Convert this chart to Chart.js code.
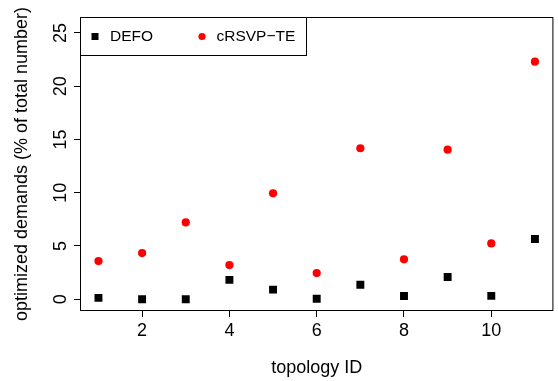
<!DOCTYPE html>
<html>
<head>
<meta charset="utf-8">
<script src="https://cdn.jsdelivr.net/npm/chart.js@4/dist/chart.umd.min.js"></script>
<style>
  html, body { margin: 0; padding: 0; background: #fff; }
  #wrap { width: 558px; height: 381px; }
</style>
</head>
<body>
<div id="wrap"><canvas id="chart" width="558" height="381"></canvas></div>
<script>
const topologyIds = [1, 2, 3, 4, 5, 6, 7, 8, 9, 10, 11];
const defoValues = [0.12, 0.0, 0.0, 1.81, 0.9, 0.04, 1.35, 0.3, 2.08, 0.31, 5.65];
const crsvpValues = [3.58, 4.33, 7.21, 3.2, 9.94, 2.45, 14.17, 3.74, 14.04, 5.24, 22.3];
const xTickValues = [2, 4, 6, 8, 10];
const yTickValues = [0, 5, 10, 15, 20, 25];
const seriesNames = ['DEFO', 'cRSVP\u2212TE'];

const FONT = 'Liberation Sans, Arial, Helvetica, sans-serif';

const toPoints = (xs, ys) => xs.map((x, i) => ({ x: x, y: ys[i] }));

// R-style box around the plot region plus the boxed legend top-left
const boxAndLegend = {
    id: 'boxAndLegend',
    afterDraw(chart) {
        const { ctx, chartArea } = chart;
        ctx.save();
        ctx.strokeStyle = '#000';
        ctx.lineWidth = 1;
        ctx.strokeRect(chartArea.left - 0.5, chartArea.top - 0.5,
            chartArea.right - chartArea.left + 1, chartArea.bottom - chartArea.top + 1);

        // legend
        const lx = chartArea.left - 0.5, ly = chartArea.top - 0.5;
        ctx.strokeRect(lx, ly, 226, 38);
        const cy = ly + 19;
        ctx.font = '15.5px ' + FONT;
        ctx.textBaseline = 'middle';
        ctx.textAlign = 'left';

        ctx.fillStyle = chart.data.datasets[0].backgroundColor;
        ctx.fillRect(lx + 11, cy - 3.5, 7, 7);
        ctx.fillStyle = '#000';
        ctx.fillText(chart.data.datasets[0].label, lx + 29.5, cy);

        ctx.fillStyle = chart.data.datasets[1].backgroundColor;
        ctx.beginPath();
        ctx.arc(lx + 121.5, cy, 3.6, 0, Math.PI * 2);
        ctx.fill();
        ctx.fillStyle = '#000';
        ctx.fillText(chart.data.datasets[1].label, lx + 136, cy);
        ctx.restore();
    }
};

new Chart(document.getElementById('chart'), {
    type: 'scatter',
    data: {
        datasets: [{
            label: seriesNames[0],
            data: toPoints(topologyIds, defoValues),
            pointStyle: 'rect',
            pointRadius: 5.6,
            backgroundColor: '#000000',
            borderWidth: 0
        }, {
            label: seriesNames[1],
            data: toPoints(topologyIds, crsvpValues),
            pointStyle: 'circle',
            pointRadius: 4.1,
            backgroundColor: '#ff0000',
            borderWidth: 0
        }]
    },
    options: {
        responsive: false,
        animation: false,
        layout: { padding: { top: 18, right: 4, left: 0, bottom: 0 } },
        plugins: {
            legend: { display: false },
            tooltip: { enabled: false }
        },
        scales: {
            x: {
                type: 'linear',
                min: 0.6,
                max: 11.4,
                afterBuildTicks: axis => { axis.ticks = xTickValues.map(v => ({ value: v })); },
                afterFit: axis => { axis.height = 71; },
                grid: { display: true, drawOnChartArea: false, drawTicks: true, tickLength: 7, color: '#000' },
                border: { display: false },
                ticks: { color: '#000', font: { family: FONT, size: 18 }, padding: 3, maxRotation: 0, autoSkip: false },
                title: {
                    display: true,
                    text: 'topology ID',
                    color: '#000',
                    font: { family: FONT, size: 18 },
                    padding: { top: 0, bottom: 2 }
                }
            },
            y: {
                type: 'linear',
                min: -1.015,
                max: 26.4,
                afterBuildTicks: axis => { axis.ticks = yTickValues.map(v => ({ value: v })); },
                afterFit: axis => { axis.width = 81; },
                grid: { display: true, drawOnChartArea: false, drawTicks: true, tickLength: 7, color: '#000' },
                border: { display: false },
                ticks: {
                    color: '#000',
                    font: { family: FONT, size: 18 },
                    padding: 3,
                    minRotation: 90,
                    maxRotation: 90,
                    crossAlign: 'center',
                    autoSkip: false
                },
                title: {
                    display: true,
                    text: 'optimized demands (% of total number)',
                    color: '#000',
                    font: { family: FONT, size: 18 },
                    padding: { top: 11, bottom: 0 }
                }
            }
        }
    },
    plugins: [boxAndLegend]
});
</script>
</body>
</html>
